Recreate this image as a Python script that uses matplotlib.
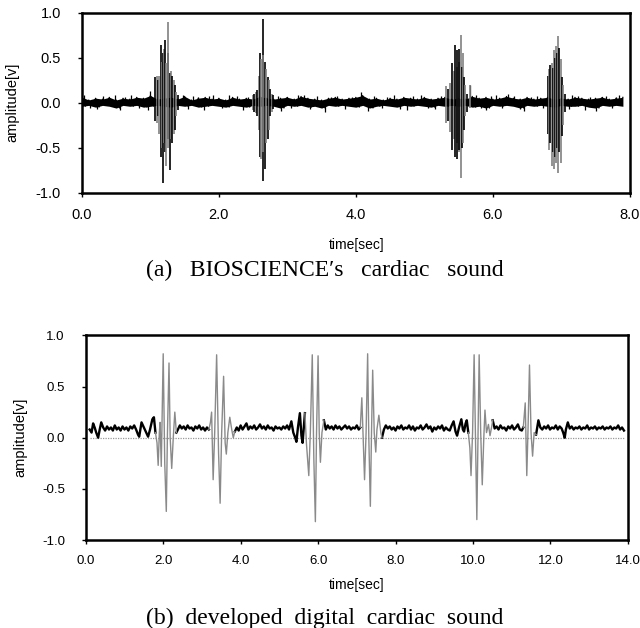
import numpy as np
import matplotlib.pyplot as plt
from matplotlib.ticker import FormatStrFormatter

# ---- (a) BIOSCIENCE's cardiac sound ----
# baseline noise envelope, one max/min pair every 0.1 s
noise_a_t = np.round(np.arange(0.0, 7.95, 0.1), 2)
noise_a_hi = [0.06, 0.03, 0.05, 0.04, 0.06, 0.03, 0.05, 0.04, 0.06, 0.05,
              0.08, 0.04, 0.05, 0.06, 0.04, 0.07, 0.03, 0.05, 0.06, 0.04,
              0.05, 0.03, 0.06, 0.04, 0.05, 0.04, 0.07, 0.05, 0.04, 0.05,
              0.06, 0.04, 0.07, 0.05, 0.04, 0.03, 0.05, 0.06, 0.04, 0.05,
              0.06, 0.08, 0.04, 0.05, 0.03, 0.05, 0.04, 0.06, 0.05, 0.04,
              0.06, 0.04, 0.05, 0.06, 0.04, 0.05, 0.04, 0.07, 0.05, 0.06,
              0.04, 0.05, 0.07, 0.05, 0.04, 0.06, 0.04, 0.05, 0.06, 0.04,
              0.05, 0.04, 0.06, 0.05, 0.04, 0.05, 0.06, 0.04, 0.05, 0.06]
noise_a_lo = [-0.04, -0.03, -0.05, -0.03, -0.04, -0.06, -0.03, -0.04, -0.03, -0.05,
              -0.04, -0.03, -0.04, -0.05, -0.03, -0.04, -0.03, -0.05, -0.04, -0.03,
              -0.04, -0.05, -0.03, -0.04, -0.05, -0.03, -0.04, -0.03, -0.04, -0.06,
              -0.03, -0.04, -0.03, -0.05, -0.04, -0.06, -0.03, -0.04, -0.03, -0.04,
              -0.05, -0.03, -0.06, -0.04, -0.03, -0.04, -0.05, -0.03, -0.04, -0.03,
              -0.04, -0.05, -0.03, -0.04, -0.03, -0.04, -0.03, -0.05, -0.04, -0.06,
              -0.03, -0.04, -0.03, -0.04, -0.06, -0.03, -0.04, -0.03, -0.04, -0.05,
              -0.03, -0.04, -0.04, -0.03, -0.05, -0.06, -0.03, -0.04, -0.03, -0.04]
# isolated noise spikes
spike_a_t = [0.03, 0.12, 0.22, 0.31, 0.48, 0.55, 0.63, 0.72, 0.84, 0.96, 1.00, 1.47,
             1.55, 1.62, 1.70, 1.78, 1.86, 1.92, 2.04, 2.15, 2.26, 2.35, 2.42, 2.86,
             2.90, 2.98, 3.06, 3.15, 3.25, 3.33, 3.44, 3.55, 3.63, 3.72, 3.84, 3.95,
             4.08, 4.18, 4.27, 4.38, 4.46, 4.55, 4.64, 4.75, 4.84, 4.95, 5.05, 5.15,
             5.24, 5.66, 5.75, 5.83, 5.90, 5.98, 6.05, 6.14, 6.22, 6.31, 6.39, 6.45,
             6.56, 6.65, 6.73, 7.12, 7.15, 7.24, 7.35, 7.42, 7.50, 7.58, 7.65, 7.74,
             7.80, 7.85]
spike_a_v = [0.08, -0.06, -0.07, 0.07, 0.09, -0.08, 0.06, 0.08, -0.06, -0.08, 0.13, 0.09,
             -0.07, 0.07, 0.06, -0.08, 0.07, 0.09, -0.06, 0.08, 0.07, -0.08, 0.06, 0.07,
             -0.09, 0.06, -0.06, 0.09, 0.08, -0.07, 0.07, -0.10, 0.06, 0.07, -0.07, 0.06,
             0.12, -0.09, 0.07, -0.06, 0.06, 0.08, -0.07, -0.08, 0.07, 0.09, -0.06, -0.07,
             0.07, 0.20, 0.09, -0.06, -0.08, 0.07, 0.08, -0.06, 0.10, 0.07, -0.07, -0.09,
             0.06, 0.07, -0.06, -0.07, 0.08, 0.07, -0.08, 0.06, -0.09, 0.06, 0.07, -0.06,
             0.06, 0.08]
# heart-sound bursts: per column max/min
burst_a_t = [1.07, 1.09, 1.11, 1.13, 1.15, 1.17, 1.18, 1.20, 1.21, 1.23, 1.25, 1.26, 1.28,
             1.30, 1.32, 1.34, 1.36, 1.38, 1.40,
             2.50, 2.52, 2.54, 2.56, 2.58, 2.60, 2.62, 2.64, 2.65, 2.67, 2.69, 2.71,
             2.73, 2.75, 2.77, 2.79,
             5.32, 5.35, 5.38, 5.41, 5.43, 5.45, 5.47, 5.48, 5.50, 5.51, 5.53, 5.55,
             5.56, 5.58, 5.60, 5.63, 5.66,
             6.80, 6.82, 6.84, 6.86, 6.88, 6.89, 6.91, 6.92, 6.94, 6.95, 6.97, 6.99,
             7.01, 7.03, 7.05]
burst_a_hi = [0.28, 0.30, 0.25, 0.30, 0.64, 0.45, 0.55, 0.60, 0.70, 0.44, 0.55, 0.89, 0.33,
              0.35, 0.30, 0.25, 0.20, 0.12, 0.08,
              0.08, 0.10, 0.12, 0.14, 0.30, 0.55, 0.48, 0.93, 0.53, 0.45, 0.37, 0.29,
              0.25, 0.15, 0.10, 0.08,
              0.18, 0.15, 0.22, 0.44, 0.35, 0.64, 0.40, 0.59, 0.45, 0.60, 0.75, 0.40,
              0.55, 0.29, 0.20, 0.10, 0.20,
              0.30, 0.37, 0.42, 0.44, 0.38, 0.59, 0.50, 0.63, 0.55, 0.74, 0.61, 0.48,
              0.29, 0.20, 0.10]
burst_a_lo = [-0.20, -0.22, -0.15, -0.35, -0.60, -0.50, -0.89, -0.45, -0.55, -0.70, -0.40, -0.50, -0.75,
              -0.40, -0.45, -0.35, -0.30, -0.15, -0.08,
              -0.08, -0.10, -0.12, -0.15, -0.30, -0.60, -0.63, -0.87, -0.55, -0.74, -0.45, -0.40,
              -0.30, -0.15, -0.10, -0.07,
              -0.23, -0.20, -0.33, -0.52, -0.40, -0.60, -0.45, -0.63, -0.55, -0.52, -0.84, -0.50,
              -0.45, -0.30, -0.15, -0.10, -0.06,
              -0.35, -0.52, -0.45, -0.70, -0.55, -0.74, -0.60, -0.67, -0.50, -0.78, -0.55, -0.67,
              -0.37, -0.25, -0.10]

# ---- (b) developed digital cardiac sound ----
sig_b_t = [0.10, 0.15, 0.19, 0.23, 0.27, 0.32, 0.36, 0.40, 0.45, 0.50, 0.55, 0.60, 0.65, 0.70,
           0.75, 0.80, 0.85, 0.90, 0.95, 1.00, 1.05, 1.10, 1.15, 1.20, 1.25, 1.30, 1.35, 1.38,
           1.44, 1.50, 1.55, 1.61, 1.66, 1.72, 1.76, 1.80,
           1.84, 1.87, 1.90, 1.92, 1.95, 2.00, 2.04, 2.08, 2.11, 2.15, 2.18, 2.22, 2.26, 2.30,
           2.34, 2.38,
           2.43, 2.48, 2.53, 2.58, 2.63, 2.68, 2.73, 2.78, 2.83, 2.88, 2.93, 2.98, 3.03, 3.08,
           3.13, 3.18,
           3.22, 3.25, 3.29, 3.33, 3.38, 3.43, 3.47, 3.51, 3.56, 3.60, 3.63, 3.67, 3.72, 3.77,
           3.81, 3.85,
           3.90, 3.95, 4.00, 4.05, 4.10, 4.15, 4.20, 4.25, 4.30, 4.35, 4.40, 4.45, 4.50, 4.55,
           4.60, 4.65, 4.70, 4.75, 4.80, 4.85, 4.90, 4.95, 5.00, 5.05, 5.10, 5.15, 5.20, 5.25,
           5.31, 5.36, 5.41, 5.44, 5.48, 5.53, 5.57, 5.60, 5.63, 5.66, 5.70, 5.76, 5.80, 5.85,
           5.89, 5.93, 5.96, 6.00, 6.03, 6.06, 6.10, 6.15, 6.20,
           6.25, 6.30, 6.35, 6.40, 6.45, 6.50, 6.55, 6.60, 6.65, 6.70, 6.75, 6.80, 6.85, 6.90,
           6.95, 7.00, 7.05,
           7.09, 7.13, 7.17, 7.20, 7.24, 7.28, 7.31, 7.35, 7.38, 7.41, 7.45, 7.49, 7.52, 7.57,
           7.62, 7.65, 7.70,
           7.75, 7.80, 7.85, 7.90, 7.95, 8.00, 8.05, 8.10, 8.15, 8.20, 8.25, 8.30, 8.35, 8.40,
           8.45, 8.50, 8.55, 8.60, 8.65, 8.70, 8.75, 8.80, 8.85, 8.90, 8.95, 9.00, 9.05, 9.10,
           9.15, 9.20, 9.25, 9.30, 9.35, 9.40, 9.45, 9.50, 9.55, 9.59, 9.64, 9.70, 9.74, 9.77,
           9.81, 9.84, 9.88,
           9.92, 9.95, 9.99, 10.03, 10.07, 10.10, 10.13, 10.16, 10.20, 10.24, 10.28, 10.31,
           10.35, 10.40, 10.44, 10.48, 10.51,
           10.56, 10.61, 10.66, 10.71, 10.76, 10.81, 10.86, 10.91, 10.96, 11.01, 11.06, 11.11,
           11.16, 11.21, 11.26, 11.30,
           11.35, 11.39, 11.42, 11.46, 11.50, 11.54, 11.58, 11.63, 11.69, 11.74,
           11.79, 11.84, 11.89, 11.94, 11.99, 12.04, 12.09, 12.14, 12.19, 12.24, 12.29, 12.33,
           12.37, 12.40, 12.45, 12.50, 12.55, 12.60, 12.65, 12.70, 12.75, 12.80, 12.85, 12.90,
           12.95, 13.00, 13.05, 13.10, 13.15, 13.20, 13.25, 13.30, 13.35, 13.40, 13.45, 13.50,
           13.55, 13.60, 13.65, 13.70, 13.75, 13.80, 13.85, 13.90]
sig_b_v = [0.08, 0.05, 0.14, 0.10, 0.05, 0.00, 0.08, 0.15, 0.10, 0.07, 0.11, 0.08, 0.10, 0.07,
           0.12, 0.08, 0.10, 0.07, 0.11, 0.08, 0.10, 0.07, 0.11, 0.09, 0.12, 0.08, 0.03, 0.01,
           0.15, 0.10, 0.06, 0.01, 0.08, 0.18, 0.20, 0.05,
           -0.05, -0.27, 0.05, 0.15, -0.28, 0.82, -0.25, -0.72, 0.05, 0.73, 0.00, -0.30, 0.00, 0.25,
           0.05, 0.08,
           0.12, 0.09, 0.11, 0.08, 0.12, 0.09, 0.10, 0.07, 0.11, 0.09, 0.12, 0.08, 0.10, 0.07,
           0.10, 0.08,
           0.15, 0.25, -0.41, 0.05, 0.81, -0.15, -0.64, 0.05, 0.60, -0.05, -0.16, 0.05, 0.20, 0.08,
           0.00, 0.06,
           0.10, 0.07, 0.12, 0.08, 0.11, 0.14, 0.08, 0.11, 0.09, 0.12, 0.08, 0.10, 0.13, 0.09,
           0.11, 0.08, 0.12, 0.09, 0.10, 0.07, 0.11, 0.09, 0.10, 0.08, 0.11, 0.09, 0.12, 0.08,
           0.16, 0.05, 0.00, -0.04, 0.10, 0.24, 0.02, -0.05, 0.10, 0.24, -0.06, -0.37, 0.05, 0.81,
           -0.20, -0.82, 0.05, 0.80, 0.05, -0.24, 0.05, 0.17, 0.08,
           0.12, 0.09, 0.11, 0.08, 0.12, 0.09, 0.11, 0.08, 0.10, 0.12, 0.09, 0.11, 0.08, 0.10,
           0.09, 0.12, 0.08,
           0.10, 0.39, -0.05, -0.41, 0.05, 0.82, 0.00, -0.67, 0.05, 0.66, 0.05, -0.14, 0.08, 0.22,
           0.05, 0.00, 0.08,
           0.12, 0.09, 0.11, 0.08, 0.10, 0.07, 0.11, 0.09, 0.12, 0.08, 0.10, 0.09, 0.12, 0.08,
           0.11, 0.07, 0.10, 0.09, 0.12, 0.08, 0.10, 0.13, 0.09, 0.11, 0.06, 0.10, 0.08, 0.11,
           0.09, 0.12, 0.07, 0.10, 0.08, 0.07, 0.12, 0.16, 0.06, 0.02, 0.10, 0.18, 0.08, 0.06,
           0.14, 0.17, 0.05,
           -0.10, -0.37, 0.05, 0.81, -0.10, -0.80, 0.00, 0.81, 0.05, -0.46, 0.00, 0.27,
           0.05, 0.13, 0.02, 0.10, 0.17,
           0.09, 0.11, 0.08, 0.12, 0.09, 0.10, 0.07, 0.11, 0.09, 0.12, 0.08, 0.10,
           0.13, 0.08, 0.07, 0.10,
           0.34, -0.37, 0.05, 0.71, 0.05, -0.18, 0.05, 0.03, 0.17, 0.10,
           0.08, 0.11, 0.09, 0.12, 0.08, 0.10, 0.09, 0.12, 0.08, 0.11, 0.09, 0.05,
           0.00, 0.08, 0.15, 0.09, 0.11, 0.08, 0.10, 0.09, 0.11, 0.08, 0.10, 0.09,
           0.12, 0.08, 0.10, 0.09, 0.11, 0.08, 0.10, 0.09, 0.11, 0.08, 0.10, 0.09,
           0.11, 0.08, 0.10, 0.09, 0.12, 0.08, 0.10, 0.07]
# time windows of the heart sounds (drawn in grey)
burst_b_start = [1.80, 3.18, 5.66, 7.09, 9.88, 11.30]
burst_b_end = [2.34, 3.85, 6.15, 7.65, 10.51, 11.63]

yticks = [-1.0, -0.5, 0.0, 0.5, 1.0]
captions = ["(a)   BIOSCIENCE\u2032s   cardiac   sound",
            "(b)  developed  digital  cardiac  sound"]

plt.rcParams['font.family'] = ['Liberation Sans', 'DejaVu Sans']
fig = plt.figure(figsize=(6.4, 6.28), dpi=100)

ax1 = fig.add_axes([0.128, 0.693, 0.856, 0.287])
ax2 = fig.add_axes([0.134, 0.140, 0.847, 0.326])

# --- top panel ---
ax1.fill_between(noise_a_t, noise_a_lo, noise_a_hi, color='black', lw=0)
zz_t = np.empty(2 * len(noise_a_t))
zz_t[0::2] = noise_a_t
zz_t[1::2] = noise_a_t + 0.05
zz_v = np.empty(2 * len(noise_a_t))
zz_v[0::2] = noise_a_hi
zz_v[1::2] = noise_a_lo
ax1.plot(zz_t[:-1], zz_v[:-1], color='black', lw=0.8)
ax1.vlines(spike_a_t, 0, spike_a_v, color='black', lw=0.9)
cols = ['black' if i % 2 == 0 else '#808080' for i in range(len(burst_a_t))]
ax1.vlines(burst_a_t, burst_a_lo, burst_a_hi, colors=cols, lw=1.2)

# --- bottom panel ---
t_b = np.array(sig_b_t)
v_b = np.array(sig_b_v)
inside = np.zeros(len(t_b), bool)
inner = np.zeros(len(t_b), bool)
for s, e in zip(burst_b_start, burst_b_end):
    inside |= (t_b >= s) & (t_b <= e)
    inner |= (t_b > s) & (t_b < e)
ax2.hlines(0, t_b[0], t_b[-1], color='#999999', lw=0.9, linestyles=(0, (1, 1)))
ax2.plot(t_b, np.where(inner, np.nan, v_b), color='black', lw=1.7)
ax2.plot(t_b, np.where(inside, v_b, np.nan), color='#8a8a8a', lw=1.0)

for ax, xmax, fs in [(ax1, 8.0, 10.5), (ax2, 14.0, 9.5)]:
    ax.set_xlim(0, xmax)
    ax.set_ylim(-1, 1)
    ax.set_xticks(np.arange(0, xmax + 0.1, 2.0))
    ax.set_yticks(yticks)
    ax.xaxis.set_major_formatter(FormatStrFormatter('%.1f'))
    ax.yaxis.set_major_formatter(FormatStrFormatter('%.1f'))
    ax.tick_params(direction='out', length=3, width=1, labelsize=fs)
    ax.tick_params(axis='y', pad=12)
    ax.tick_params(axis='x', pad=8)
    for sp in ax.spines.values():
        sp.set_linewidth(1.8)
    ax.set_ylabel('amplitude[v]', fontsize=10.5)
    ax.set_xlabel('time[sec]', fontsize=10)

ax1.yaxis.set_label_coords(-0.115, 0.5)
ax1.xaxis.set_label_coords(0.502, -0.25)
ax2.yaxis.set_label_coords(-0.108, 0.5)
ax2.xaxis.set_label_coords(0.5, -0.185)

fig.text(0.508, 0.570, captions[0], family='Liberation Serif', fontsize=17,
         ha='center', va='center')
fig.text(0.508, 0.016, captions[1], family='Liberation Serif', fontsize=17,
         ha='center', va='center')

fig.savefig('out.png', dpi=100)
